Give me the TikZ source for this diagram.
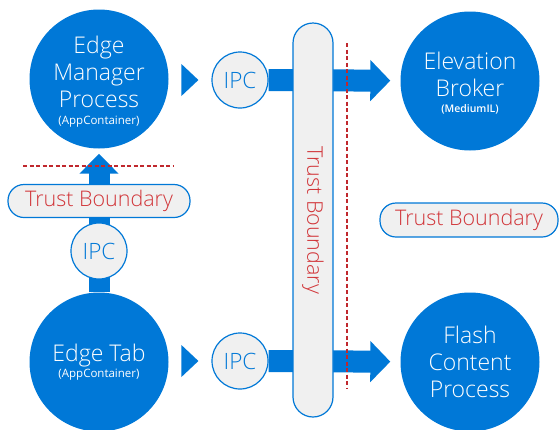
\documentclass[tikz,border=0pt]{standalone}
\usepackage{fontspec}
\setmainfont{Open Sans}[UprightFont=* Light]
\newfontfamily\subfont{Open Sans}
\newfontfamily\semifont{Open Sans}[UprightFont=* Semibold]
\usetikzlibrary{arrows.meta,calc}
\definecolor{procblue}{HTML}{0078D7}
\definecolor{pillgray}{HTML}{F0F0F0}
\definecolor{trustred}{HTML}{D13438}
\definecolor{dashred}{HTML}{C0282D}
\pgfdeclarelayer{bg}
\pgfsetlayers{bg,main}

\tikzset{
  proc/.style={circle,fill=procblue,text=white,minimum size=139pt,inner sep=0pt,align=center,font=\fontsize{23}{27}\selectfont},
  ipc/.style={circle,draw=procblue,line width=1.2pt,fill=pillgray,text=procblue,minimum size=56pt,inner sep=0pt,font=\fontsize{22.5}{25}\selectfont},
  pill/.style={draw=procblue,line width=1.2pt,fill=pillgray,text=trustred,inner sep=0pt,font=\fontsize{21.5}{24}\selectfont},
  flow/.style={procblue,line width=22pt,-{Triangle[length=20pt,width=40pt]}},
  boundary/.style={dashred,line width=1.2pt,dash pattern=on 4pt off 2.5pt}
}
\newcommand{\sub}[1]{{\subfont\fontsize{11.5}{14}\selectfont #1}}
\newcommand{\subsemi}[1]{{\semifont\fontsize{10.5}{14}\selectfont #1}}

\begin{document}
\begin{tikzpicture}[x=1pt,y=-1pt]
  \useasboundingbox (0,0) rectangle (560,429);

  % Processes
  \node[proc] (mgr) at (99,79) {\rule{0pt}{23pt}Edge\\Manager\\Process\\[-10pt]\sub{(AppContainer)}};
  \node[proc] (tab) at (99,362) {Edge Tab\\[-11pt]\sub{(AppContainer)}};
  \node[proc] (broker) at (470,81) {\rule{0pt}{21pt}Elevation\\Broker\\[-11pt]\subsemi{(MediumIL)}};
  \node[proc] (flash) at (470,362) {Flash\\Content\\Process};

  % IPC channels
  \node[ipc] (ipcTop) at (240,80) {IPC};
  \node[ipc] (ipcMid) at (99,251) {IPC};
  \node[ipc] (ipcBot) at (240,361) {IPC};

  % Trust boundaries
  \node[pill,rounded corners=20pt,rotate=-90,minimum width=394pt,minimum height=40pt] (tbMid) at (313,220) {Trust Boundary};
  \node[pill,rounded corners=16pt,minimum width=182pt,minimum height=33pt] (tbLeft) at (99,201) {Trust Boundary};
  \node[pill,rounded corners=16pt,minimum width=178pt,minimum height=34pt] (tbRight) at (469,220) {Trust Boundary};

  % Flows
  \begin{pgfonlayer}{bg}
    \draw[flow,shorten >=10pt] (ipcTop) -- (broker);
    \draw[flow,shorten >=10pt] (ipcBot) -- (flash);
    \draw[flow,line width=21pt,-{Triangle[length=20pt,width=38pt]},shorten >=5pt] (tab) -- (mgr);
  \end{pgfonlayer}
  \fill[procblue] ($(ipcTop.west)+(-30,-16)$) -- ++(17,16) -- ++(-17,16) -- cycle;
  \fill[procblue] ($(ipcBot.west)+(-30,-16)$) -- ++(17,16) -- ++(-17,16) -- cycle;

  % Dashed boundary lines
  \draw[boundary] (23,166) -- (173,166);
  \draw[boundary] (347,43) -- (347,388);
\end{tikzpicture}
\end{document}
